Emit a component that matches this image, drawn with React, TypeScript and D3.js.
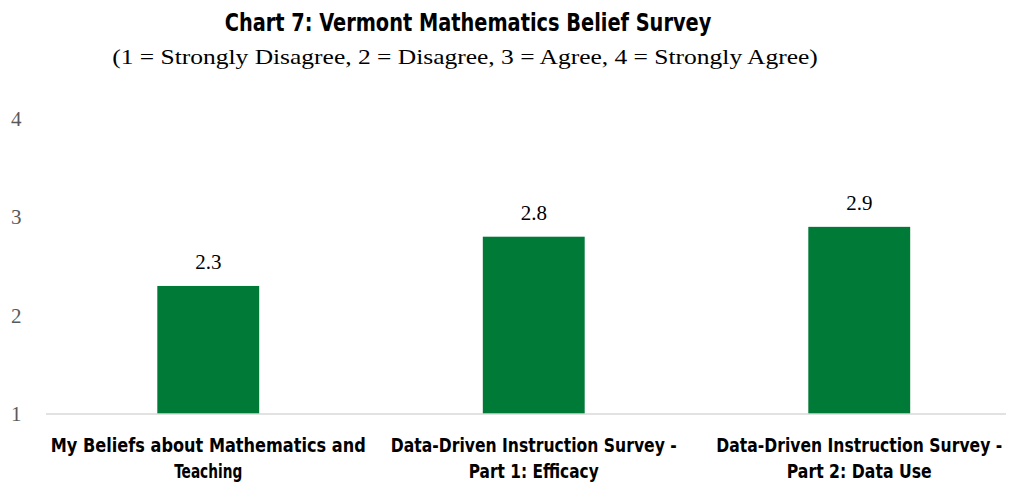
import React, { useLayoutEffect, useRef, useState } from "react";
import * as d3 from "d3";

const categories: string[][] = [
  ["My Beliefs about Mathematics and", "Teaching"],
  ["Data-Driven Instruction Survey -", "Part 1: Efficacy"],
  ["Data-Driven Instruction Survey -", "Part 2: Data Use"],
];
const categoryLineWidths: number[][] = [
  [315, 68],
  [286, 130],
  [286, 145],
];
const values: number[] = [2.3, 2.8, 2.9];
const yTicks: number[] = [1, 2, 3, 4];
const title = "Chart 7: Vermont Mathematics Belief Survey";
const subtitle = "(1 = Strongly Disagree, 2 = Disagree, 3 = Agree, 4 = Strongly Agree)";

const W = 1010;
const H = 485;
const condensed = "'DejaVu Sans Condensed', 'DejaVu Sans', sans-serif";
const serif = "'Liberation Serif', 'DejaVu Serif', serif";

type FitProps = {
  x: number;
  y: number;
  width: number;
  fontFamily: string;
  fontSize: number;
  fontWeight?: string;
  children: string;
};

function FitText({ x, y, width, fontFamily, fontSize, fontWeight, children }: FitProps) {
  const ref = useRef<SVGTextElement>(null);
  const [sx, setSx] = useState(1);
  useLayoutEffect(() => {
    if (ref.current) {
      const w = ref.current.getComputedTextLength();
      if (w > 0) setSx(width / w);
    }
  }, [width, children, fontSize, fontFamily]);
  return (
    <g transform={`translate(${x},${y}) scale(${sx},1)`}>
      <text
        ref={ref}
        x={0}
        y={0}
        textAnchor="middle"
        fontFamily={fontFamily}
        fontWeight={fontWeight}
        fontSize={fontSize}
        fill="#000"
      >
        {children}
      </text>
    </g>
  );
}

export default function App() {
  const keys = categories.map((_, i) => String(i));
  const x = d3
    .scaleBand<string>()
    .domain(keys)
    .range([45.5, 1022])
    .paddingInner(0.687)
    .paddingOuter(0.3435);
  const y = d3.scaleLinear().domain([1, 4]).range([414, 118.5]);

  return (
    <svg
      width={W}
      height={H}
      style={{ position: "absolute", left: 0, top: 0, background: "#fff" }}
    >
      <FitText x={468} y={31} width={487} fontFamily={condensed} fontWeight="bold" fontSize={24}>
        {title}
      </FitText>
      <FitText x={465} y={64} width={706} fontFamily={serif} fontSize={21}>
        {subtitle}
      </FitText>
      {yTicks.map((t) => (
        <text
          key={t}
          x={11}
          y={y(t)}
          dy="0.35em"
          fontFamily={serif}
          fontSize={21}
          fill="#595959"
        >
          {t}
        </text>
      ))}
      {values.map((v, i) => (
        <g key={i}>
          <rect
            x={x(String(i))}
            y={y(v)}
            width={x.bandwidth()}
            height={y(1) - y(v)}
            fill="#007A37"
          />
          <text
            x={(x(String(i)) as number) + x.bandwidth() / 2}
            y={y(v) - 17}
            textAnchor="middle"
            fontFamily={serif}
            fontSize={21}
            fill="#000"
          >
            {v.toFixed(1)}
          </text>
        </g>
      ))}
      <line x1={46} x2={1006} y1={y(1)} y2={y(1)} stroke="#D9D9D9" strokeWidth={1.5} />
      {categories.map((lines, i) =>
        lines.map((l, j) => (
          <FitText
            key={`${i}-${j}`}
            x={(x(String(i)) as number) + x.bandwidth() / 2}
            y={452 + j * 26}
            width={categoryLineWidths[i][j]}
            fontFamily={condensed}
            fontWeight="bold"
            fontSize={20}
          >
            {l}
          </FitText>
        ))
      )}
    </svg>
  );
}
